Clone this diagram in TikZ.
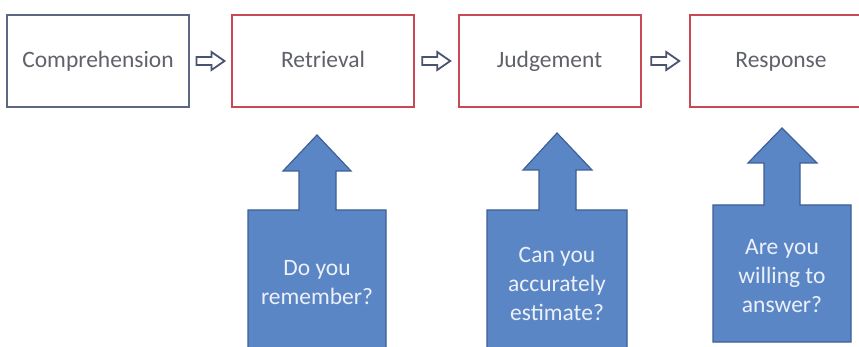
\documentclass[tikz,border=0pt]{standalone}
\usepackage{fontspec}
\setmainfont{Carlito}
\usetikzlibrary{calc}

\definecolor{stagegray}{RGB}{92,104,130}
\definecolor{stagered}{RGB}{200,72,86}
\definecolor{stagetext}{RGB}{96,98,106}
\definecolor{flowedge}{RGB}{74,84,112}
\definecolor{calloutfill}{RGB}{91,134,198}
\definecolor{calloutedge}{RGB}{62,96,150}
\definecolor{callouttext}{RGB}{236,241,249}

\tikzset{
  stage/.style={draw=stagered, line width=2pt, fill=white, minimum width=182pt,
    minimum height=92pt, inner sep=0pt, text=stagetext,
    text height=18pt, text depth=4pt,
    font=\fontsize{23.5}{28}\selectfont},
  firststage/.style={stage, draw=stagegray},
  flowarrow/.style={draw=flowedge, line width=1.8pt, fill=white, line join=miter},
  callout/.style={fill=calloutfill, draw=calloutedge, line width=1.2pt, line join=miter},
  question/.style={align=center, text=callouttext, inner sep=0pt,
    font=\fontsize{23.5}{29}\selectfont}
}

\begin{document}
\begin{tikzpicture}[x=1pt, y=-1pt]
  \useasboundingbox (0,0) rectangle (859,347);
  \clip (0,0) rectangle (859,347);
  \fill[white] (0,0) rectangle (859,347);

  % stages of the response process
  \node[firststage] (comp) at (98,61)  {Comprehension};
  \node[stage]      (retr) at (323,61) {Retrieval};
  \node[stage]      (judg) at (549.5,61) {Judgement};
  \node[stage]      (resp) at (781,61) {Response};

  % hollow block arrows between the stages
  \foreach \a/\b/\m in {comp/retr/m1, retr/judg/m2, judg/resp/m3}{
    \coordinate (\m) at ($(\a.east)!0.5!(\b.west)$);
    \draw[flowarrow] ($(\m)+(-14,-4)$) -- ++(15,0) -- ++(0,-5) -- ++(13,9)
      -- ++(-13,9) -- ++(0,-5) -- ++(-15,0) -- cycle;
  }

  % question callouts pointing up at the stages
  \draw[callout] (248,352) -- (248,210) -- (299,210) -- (299,171) -- (283,171)
    -- (317,135) -- (351,171) -- (336,171) -- (336,210) -- (386,210) -- (386,352) -- cycle;
  \draw[callout] (487,352) -- (487,210) -- (539,210) -- (539,170) -- (523,170)
    -- (557,133) -- (592,170) -- (576,170) -- (576,210) -- (627,210) -- (627,352) -- cycle;
  \draw[callout] (713,342) -- (713,205) -- (764,205) -- (764,163) -- (748,163)
    -- (782,128) -- (817,163) -- (800,163) -- (800,205) -- (851,205) -- (851,342) -- cycle;

  \node[question] (q1) at (317,283) {Do you\\remember?};
  \node[question] (q2) at (557,284) {Can you\\accurately\\estimate?};
  \node[question] (q3) at (782,276) {Are you\\willing to\\answer?};
\end{tikzpicture}
\end{document}
